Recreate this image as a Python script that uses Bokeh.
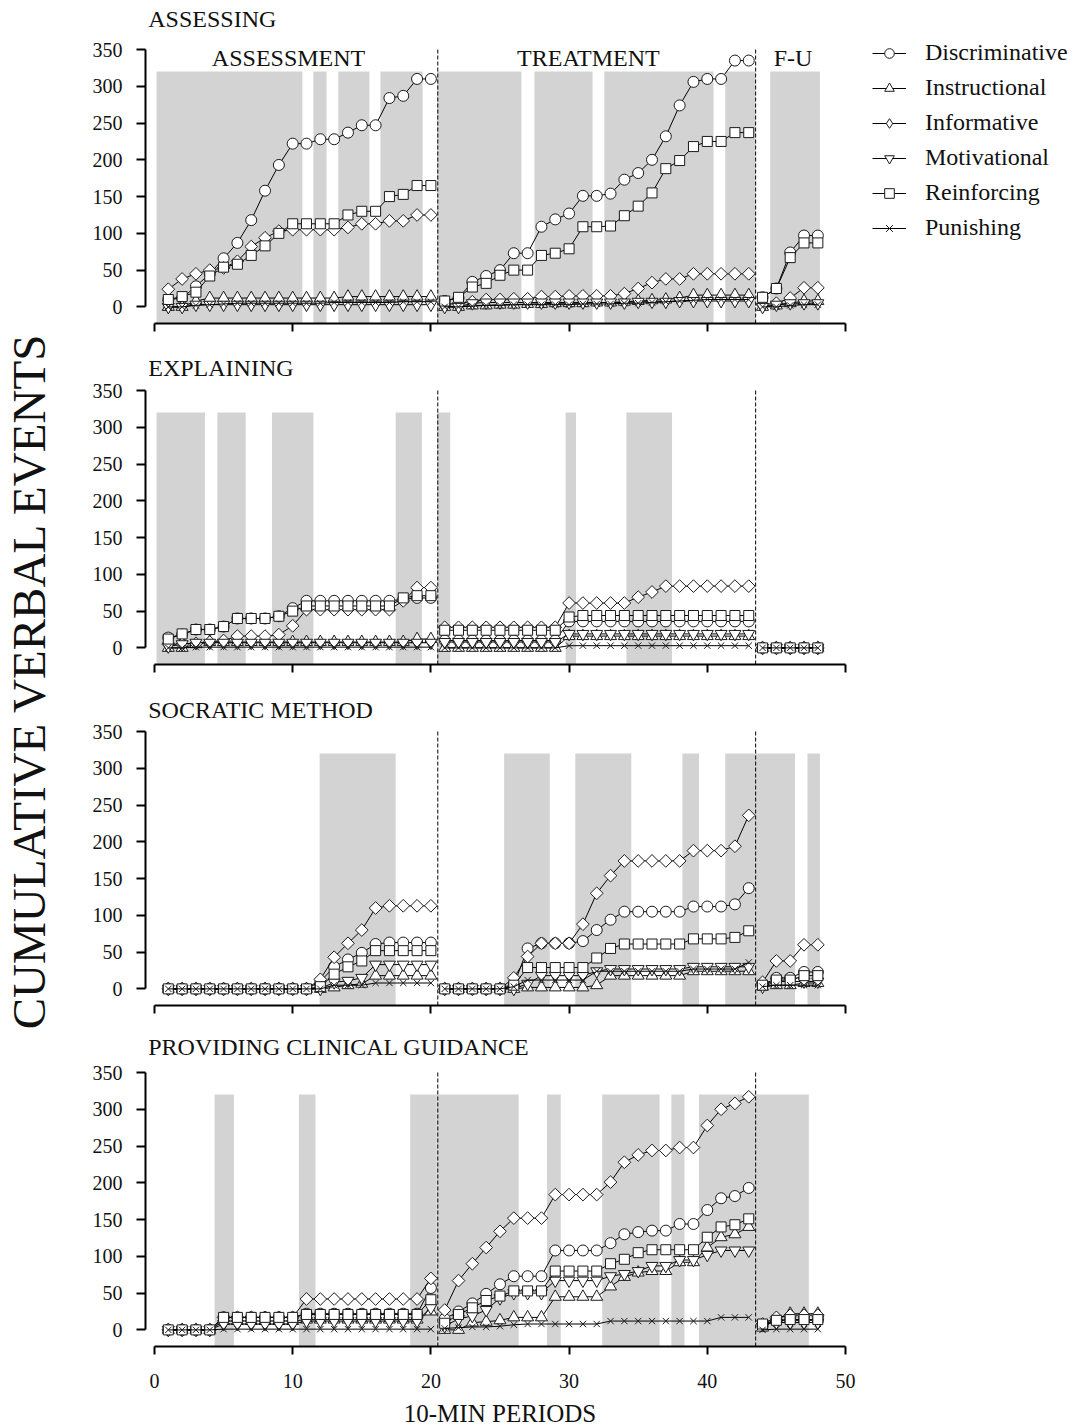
from math import pi
from bokeh.plotting import figure
from bokeh.layouts import row, column
from bokeh.models import Range1d, FixedTicker, Legend, LegendItem
from bokeh.embed import file_html
from bokeh.resources import INLINE
from bokeh.core.properties import value

FONT = "Liberation Serif"

# ---------------- data ----------------
sessions = list(range(1, 49))
phase_slices = [(0, 20), (20, 43), (43, 48)]
phase_changes = [20.5, 43.5]
phase_names = ["ASSESSMENT", "TREATMENT", "F-U"]
phase_name_x = [9.7, 31.4, 46.2]

series_names = ["Discriminative", "Instructional", "Informative",
                "Motivational", "Reinforcing", "Punishing"]
panel_titles = ["ASSESSING", "EXPLAINING", "SOCRATIC METHOD",
                "PROVIDING CLINICAL GUIDANCE"]
x_title = "10-MIN PERIODS"
y_title = "CUMULATIVE VERBAL EVENTS"
y_ticks = [0, 50, 100, 150, 200, 250, 300, 350]
x_ticks = [0, 10, 20, 30, 40, 50]

# ASSESSING
p1_disc = [10, 12, 28, 45, 66, 87, 118, 158, 193, 222, 222, 228, 228, 237, 247, 247, 284, 287, 310, 310,
           8, 12, 34, 42, 50, 73, 73, 109, 119, 127, 151, 151, 154, 173, 182, 200, 232, 274, 306, 310, 310, 335, 335,
           13, 25, 74, 97, 97]
p1_instr = [0, 0, 8, 12, 12, 12, 12, 12, 12, 12, 12, 12, 12, 14, 14, 14, 14, 14, 14, 14,
            0, 0, 2, 2, 3, 3, 4, 4, 5, 5, 5, 6, 6, 7, 8, 9, 10, 12, 16, 16, 16, 16, 16,
            0, 2, 5, 8, 8]
p1_info = [24, 38, 45, 50, 53, 62, 82, 94, 103, 105, 105, 105, 105, 108, 113, 113, 117, 117, 125, 125,
           3, 5, 7, 10, 10, 11, 11, 14, 14, 15, 15, 15, 15, 18, 25, 33, 38, 38, 45, 45, 45, 45, 45,
           3, 5, 12, 26, 26]
p1_motiv = [0, 0, 3, 3, 3, 3, 3, 3, 3, 3, 3, 3, 3, 3, 3, 3, 3, 3, 3, 3,
            0, 0, 5, 6, 6, 6, 6, 6, 6, 6, 6, 6, 6, 6, 7, 7, 7, 8, 8, 8, 8, 8, 8,
            0, 3, 5, 5, 5]
p1_reinf = [10, 14, 20, 42, 54, 58, 70, 83, 100, 113, 113, 113, 113, 125, 130, 130, 150, 153, 165, 165,
            8, 13, 27, 32, 43, 50, 50, 70, 73, 79, 109, 109, 110, 124, 137, 155, 188, 199, 218, 225, 225, 237, 237,
            13, 25, 67, 87, 87]
p1_pun = [0, 0, 2, 3, 4, 5, 5, 5, 5, 5, 5, 5, 6, 6, 6, 6, 6, 7, 7, 7,
          0, 0, 1, 2, 2, 3, 3, 3, 3, 3, 4, 4, 4, 5, 5, 6, 7, 8, 9, 10, 10, 10, 10,
          0, 0, 2, 3, 3]

# EXPLAINING
p2_disc = [14, 18, 25, 25, 29, 40, 40, 40, 43, 54, 64, 64, 64, 64, 64, 64, 64, 66, 68, 68,
           10, 10, 10, 10, 10, 10, 10, 10, 10, 36, 36, 36, 36, 36, 36, 36, 36, 36, 36, 36, 36, 36, 36,
           0, 0, 0, 0, 0]
p2_instr = [0, 0, 5, 8, 8, 8, 8, 8, 8, 8, 8, 8, 8, 8, 8, 8, 8, 8, 12, 12,
            0, 0, 0, 0, 0, 0, 0, 0, 0, 16, 16, 16, 16, 16, 16, 16, 16, 16, 16, 16, 16, 16, 16,
            0, 0, 0, 0, 0]
p2_info = [5, 5, 6, 8, 10, 16, 16, 16, 18, 30, 52, 52, 52, 52, 52, 52, 52, 64, 82, 82,
           28, 28, 28, 28, 28, 28, 28, 28, 28, 61, 61, 61, 61, 61, 69, 76, 84, 84, 84, 84, 84, 84, 84,
           0, 0, 0, 0, 0]
p2_motiv = [2, 5, 7, 7, 7, 7, 7, 7, 7, 7, 7, 7, 7, 7, 7, 7, 7, 7, 7, 7,
            8, 8, 8, 8, 8, 8, 8, 8, 8, 19, 19, 19, 19, 19, 19, 19, 19, 19, 19, 19, 19, 19, 19,
            0, 0, 0, 0, 0]
p2_reinf = [12, 19, 25, 25, 29, 40, 40, 40, 43, 50, 57, 57, 57, 57, 57, 57, 57, 68, 71, 71,
            24, 24, 24, 24, 24, 24, 24, 24, 24, 42, 44, 44, 44, 44, 44, 44, 44, 44, 44, 44, 44, 44, 44,
            0, 0, 0, 0, 0]
p2_pun = [0, 0, 1, 1, 1, 1, 1, 1, 1, 1, 1, 1, 1, 1, 1, 1, 1, 1, 1, 1,
          0, 0, 0, 0, 0, 0, 0, 0, 0, 3, 3, 3, 3, 3, 3, 3, 3, 3, 3, 3, 3, 3, 3,
          0, 0, 0, 0, 0]

# SOCRATIC METHOD
p3_disc = [0, 0, 0, 0, 0, 0, 0, 0, 0, 0, 0, 10, 30, 40, 49, 61, 63, 63, 63, 63,
           0, 0, 0, 0, 0, 5, 55, 62, 62, 62, 65, 80, 94, 105, 105, 105, 105, 105, 112, 112, 112, 115, 137,
           5, 15, 15, 23, 23]
p3_instr = [0, 0, 0, 0, 0, 0, 0, 0, 0, 0, 0, 0, 2, 5, 7, 18, 18, 18, 18, 18,
            0, 0, 0, 0, 0, 0, 2, 2, 2, 2, 2, 5, 18, 18, 18, 18, 18, 18, 24, 24, 24, 24, 24,
            3, 5, 5, 8, 8]
p3_info = [0, 0, 0, 0, 0, 0, 0, 0, 0, 0, 0, 13, 43, 62, 80, 110, 113, 113, 113, 113,
           0, 0, 0, 0, 0, 15, 44, 62, 62, 62, 88, 130, 154, 174, 174, 174, 174, 174, 188, 188, 188, 194, 236,
           9, 38, 38, 60, 60]
p3_motiv = [0, 0, 0, 0, 0, 0, 0, 0, 0, 0, 0, 0, 9, 11, 15, 33, 33, 33, 33, 33,
            0, 0, 0, 0, 0, 0, 7, 18, 18, 18, 18, 24, 27, 27, 27, 27, 27, 27, 30, 30, 30, 30, 30,
            3, 10, 10, 10, 10]
p3_reinf = [0, 0, 0, 0, 0, 0, 0, 0, 0, 0, 0, 3, 20, 30, 38, 52, 52, 52, 52, 52,
            0, 0, 0, 0, 0, 5, 29, 29, 29, 29, 29, 42, 55, 61, 61, 61, 61, 61, 68, 68, 68, 70, 79,
            5, 12, 12, 18, 18]
p3_pun = [0, 0, 0, 0, 0, 0, 0, 0, 0, 0, 0, 0, 5, 5, 5, 8, 8, 8, 8, 8,
          0, 0, 0, 0, 0, 3, 12, 12, 12, 12, 12, 24, 24, 24, 24, 24, 24, 24, 27, 27, 27, 27, 36,
          3, 5, 5, 5, 5]

# PROVIDING CLINICAL GUIDANCE
p4_disc = [0, 0, 0, 0, 17, 17, 17, 17, 17, 17, 22, 22, 22, 22, 22, 22, 22, 22, 22, 57,
           15, 25, 36, 49, 62, 73, 73, 73, 108, 108, 108, 108, 118, 130, 133, 135, 135, 144, 144, 163, 179, 182, 193,
           5, 13, 13, 13, 13]
p4_instr = [0, 0, 0, 0, 12, 12, 12, 12, 12, 12, 14, 14, 14, 14, 14, 14, 14, 14, 14, 25,
            0, 0, 10, 11, 13, 17, 17, 17, 45, 45, 45, 45, 59, 72, 78, 80, 80, 92, 92, 112, 126, 130, 140,
            3, 15, 22, 22, 22]
p4_info = [0, 0, 0, 0, 17, 17, 17, 17, 17, 17, 42, 42, 42, 42, 42, 42, 42, 42, 42, 70,
           27, 67, 90, 112, 134, 152, 152, 152, 184, 184, 184, 184, 201, 228, 238, 244, 244, 248, 248, 278, 300, 308, 317,
           8, 17, 20, 20, 20]
p4_motiv = [0, 0, 0, 0, 8, 8, 8, 8, 8, 8, 12, 12, 12, 12, 12, 12, 12, 12, 12, 30,
            5, 15, 19, 27, 43, 50, 50, 50, 67, 67, 67, 67, 73, 76, 80, 87, 87, 95, 95, 102, 108, 108, 108,
            8, 10, 10, 10, 10]
p4_reinf = [0, 0, 0, 0, 17, 17, 17, 17, 17, 17, 21, 21, 21, 21, 21, 21, 21, 21, 21, 41,
            9, 21, 30, 40, 46, 53, 53, 53, 80, 80, 80, 80, 90, 96, 105, 109, 109, 109, 109, 126, 140, 143, 151,
            8, 13, 14, 14, 14]
p4_pun = [0, 0, 0, 0, 1, 1, 1, 1, 1, 1, 1, 1, 1, 1, 1, 1, 1, 1, 1, 1,
          2, 3, 4, 4, 5, 7, 8, 8, 8, 8, 8, 8, 12, 12, 12, 12, 12, 12, 12, 12, 17, 17, 17,
          0, 1, 1, 1, 1]

# shaded (gray) periods: start / end in session units
p1_shade_start = [0.15, 11.5, 13.3, 16.35, 20.45, 27.5, 32.55, 41.3, 44.55]
p1_shade_end = [10.7, 12.45, 15.55, 19.4, 26.55, 31.7, 40.45, 43.5, 48.15]
p2_shade_start = [0.15, 4.55, 8.5, 17.45, 20.45, 29.75, 34.15]
p2_shade_end = [3.65, 6.6, 11.5, 19.35, 21.4, 30.5, 37.45]
p3_shade_start = [11.95, 25.3, 30.45, 38.2, 41.3, 43.45, 47.25]
p3_shade_end = [17.45, 28.6, 34.5, 39.4, 43.45, 46.35, 48.15]
p4_shade_start = [4.35, 10.45, 18.5, 20.4, 28.4, 32.4, 37.4, 39.4, 43.45]
p4_shade_end = [5.75, 11.65, 20.4, 26.35, 29.4, 36.55, 38.35, 43.45, 47.35]

panels_data = [
    [p1_disc, p1_instr, p1_info, p1_motiv, p1_reinf, p1_pun],
    [p2_disc, p2_instr, p2_info, p2_motiv, p2_reinf, p2_pun],
    [p3_disc, p3_instr, p3_info, p3_motiv, p3_reinf, p3_pun],
    [p4_disc, p4_instr, p4_info, p4_motiv, p4_reinf, p4_pun],
]
panels_shade = [
    (p1_shade_start, p1_shade_end),
    (p2_shade_start, p2_shade_end),
    (p3_shade_start, p3_shade_end),
    (p4_shade_start, p4_shade_end),
]

# ---------------- styles / layout ----------------
# (marker, size, angle) in plot; (marker, size) for the smaller legend symbols
MARKERS = [("circle", 11, 0.0), ("triangle", 12, 0.0), ("square", 9, pi / 4),
           ("inverted_triangle", 12, 0.0), ("square", 10, 0.0), ("x", 9, 0.0)]
LEGEND_MARKERS = [("circle", 9), ("triangle", 11), ("diamond", 11),
                  ("inverted_triangle", 11), ("square", 8), ("x", 8)]
LAB_W = 68
PANEL_W = 1012
BORDER_L = 77
FRAME_W = PANEL_W - BORDER_L
FRAME_H = 315
PX_PER_X = 13.82
Y_LO, Y_HI = -22.6, 405.8
X_LO = -0.65
X_HI = X_LO + FRAME_W / PX_PER_X
SHADE_TOP = 320
LINE_TOP = 350
TITLE_Y = [392, 380, 379, 385]
PHASE_Y = 339
GRAY = "#d3d3d3"
INK = "#111111"
XLAB_H = 30


def make_panel(i):
    top = (i == 0)
    bottom = (i == 3)
    b_top = 8 if top else 0
    b_bot = 50 if bottom else 26
    p = figure(width=PANEL_W, height=FRAME_H + b_top + b_bot,
               x_range=Range1d(X_LO, X_HI), y_range=Range1d(Y_LO, Y_HI),
               toolbar_location=None, output_backend="svg",
               min_border_left=BORDER_L, min_border_right=0,
               min_border_top=b_top, min_border_bottom=b_bot)
    p.grid.visible = False
    p.outline_line_color = None

    starts, ends = panels_shade[i]
    p.quad(left=starts, right=ends, bottom=Y_LO, top=SHADE_TOP,
           fill_color=GRAY, line_color=None)
    p.segment(x0=phase_changes, y0=Y_LO, x1=phase_changes, y1=LINE_TOP,
              line_color="black", line_width=1, line_dash="4 2")

    items = []
    for k, vals in enumerate(panels_data[i]):
        mk, sz, ang = MARKERS[k]
        line_r = None
        for a, b in phase_slices:
            r = p.line(sessions[a:b], vals[a:b], line_color="black", line_width=1)
            if line_r is None:
                line_r = r
        leg_r = None
        if top:
            # smaller legend symbol, drawn at the first point under the real marker
            lmk, lsz = LEGEND_MARKERS[k]
            leg_r = p.scatter(sessions[:1], vals[:1], marker=lmk, size=lsz,
                              fill_color="white", line_color="#1a1a1a", line_width=1)
        p.scatter(sessions, vals, marker=mk, size=sz, angle=ang,
                  fill_color="white", line_color="#1a1a1a", line_width=1)
        if top:
            items.append(LegendItem(label=series_names[k], renderers=[line_r, leg_r]))

    p.text(x=[-0.45], y=[TITLE_Y[i]], text=[panel_titles[i]], text_align="left",
           text_baseline="middle", text_font=value(FONT), text_font_size="24px",
           text_color=INK)
    if top:
        p.text(x=phase_name_x, y=PHASE_Y, text=phase_names, text_align="center",
               text_baseline="middle", text_font=value(FONT), text_font_size="24px",
               text_color=INK)
        legend = Legend(items=items, location=(727, 82), glyph_width=34,
                        glyph_height=24, label_height=24, spacing=8, padding=5,
                        margin=0, label_standoff=19, label_text_font=FONT,
                        label_text_font_size="24px", label_text_color=INK,
                        border_line_color=None, background_fill_alpha=0)
        p.add_layout(legend)

    xa = p.xaxis[0]
    xa.ticker = FixedTicker(ticks=x_ticks)
    xa.bounds = (0, 50)
    xa.axis_line_width = 2
    xa.axis_line_color = "black"
    xa.major_tick_line_width = 2
    xa.major_tick_out = 8
    xa.major_tick_in = 0
    xa.minor_tick_out = 0
    xa.minor_tick_in = 0
    if bottom:
        xa.major_label_text_font = FONT
        xa.major_label_text_font_size = "20px"
        xa.major_label_text_color = INK
        xa.major_label_standoff = 19
    else:
        xa.major_label_overrides = {t: "" for t in x_ticks}
        xa.major_label_text_font_size = "1px"
        xa.major_label_standoff = 0

    ya = p.yaxis[0]
    ya.ticker = FixedTicker(ticks=y_ticks)
    ya.bounds = (0, 350)
    ya.axis_line_width = 2
    ya.axis_line_color = "black"
    ya.major_tick_line_width = 2
    ya.major_tick_out = 9
    ya.major_tick_in = 0
    ya.minor_tick_out = 0
    ya.minor_tick_in = 0
    ya.major_label_text_font = FONT
    ya.major_label_text_font_size = "20px"
    ya.major_label_text_color = INK
    ya.major_label_standoff = 14
    return p


panels = [make_panel(i) for i in range(4)]

# x-axis title, centred under the 0-50 axis
xlab = figure(width=PANEL_W, height=XLAB_H, x_range=Range1d(X_LO, X_HI),
              y_range=Range1d(0, 1), toolbar_location=None, output_backend="svg",
              min_border_left=BORDER_L, min_border_right=0, min_border_top=0,
              min_border_bottom=0, x_axis_type=None, y_axis_type=None)
xlab.outline_line_color = None
xlab.grid.visible = False
xlab.text(x=[(x_ticks[0] + x_ticks[-1]) / 2], y=[0.45], text=[x_title],
          text_align="center", text_baseline="middle", text_font=value(FONT),
          text_font_size="25px", text_color=INK)

total_h = sum(pp.height for pp in panels) + XLAB_H

lab = figure(width=LAB_W, height=total_h, x_range=Range1d(0, 1), y_range=Range1d(0, 1),
             toolbar_location=None, output_backend="svg", min_border=0,
             x_axis_type=None, y_axis_type=None)
lab.outline_line_color = None
lab.grid.visible = False
lab.text(x=[0.42], y=[0.523], text=[y_title], angle=pi / 2,
         text_align="center", text_baseline="middle", text_font=value(FONT),
         text_font_size="47px", text_color=INK)

layout = row(lab, column(*panels, xlab))
open("out.html", "w").write(file_html(layout, INLINE))
